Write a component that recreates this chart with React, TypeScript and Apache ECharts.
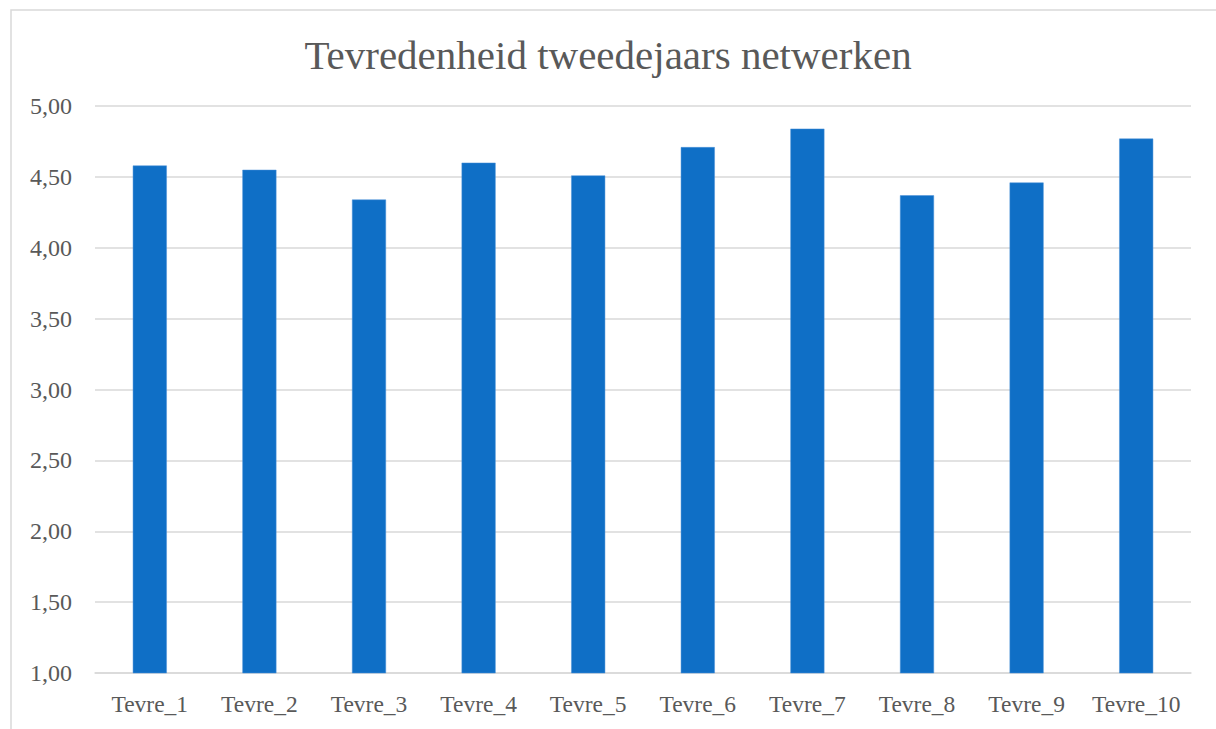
import React, { useEffect, useRef } from "react";
import * as echarts from "echarts";

const categories = ["Tevre_1", "Tevre_2", "Tevre_3", "Tevre_4", "Tevre_5", "Tevre_6", "Tevre_7", "Tevre_8", "Tevre_9", "Tevre_10"];
const values = [4.58, 4.55, 4.34, 4.6, 4.51, 4.71, 4.84, 4.37, 4.46, 4.77];
const titleText = "Tevredenheid tweedejaars netwerken";
const yMin = 1;
const yMax = 5;
const yInterval = 0.5;

const FONT = "'Liberation Serif', serif";
const GREY = "#595959";

export default function App() {
  const ref = useRef<HTMLDivElement>(null);
  useEffect(() => {
    if (!ref.current) return;
    const chart = echarts.init(ref.current, undefined, { renderer: "svg" });
    chart.setOption({
      animation: false,
      backgroundColor: "#ffffff",
      title: {
        text: titleText,
        left: "center",
        top: 29,
        textStyle: { fontFamily: FONT, fontSize: 41, fontWeight: "normal", color: GREY },
      },
      graphic: [
        {
          type: "rect",
          shape: { x: 11, y: 10, width: 1230, height: 760 },
          style: { fill: "none", stroke: "#d9d9d9", lineWidth: 1.5 },
          silent: true,
        },
      ],
      grid: { left: 95, right: 25, top: 106, bottom: 56, containLabel: false },
      xAxis: {
        type: "category",
        data: categories,
        axisTick: { show: false },
        axisLine: { lineStyle: { color: "#d9d9d9", width: 1.5 } },
        axisLabel: { fontFamily: FONT, fontSize: 23.5, color: GREY, margin: 19, interval: 0, hideOverlap: false },
      },
      yAxis: {
        type: "value",
        min: yMin,
        max: yMax,
        interval: yInterval,
        axisLine: { show: false },
        axisTick: { show: false },
        splitLine: { lineStyle: { color: "#d9d9d9", width: 1.5 } },
        axisLabel: {
          fontFamily: FONT,
          fontSize: 24,
          color: GREY,
          margin: 23,
          formatter: (v: number) => v.toFixed(2).replace(".", ","),
        },
      },
      series: [
        {
          type: "bar",
          data: values,
          barWidth: 34,
          itemStyle: { color: "#0F6FC6", borderColor: "#4a90d9", borderWidth: 0.5 },
        },
      ],
    });
    return () => chart.dispose();
  }, []);
  return <div ref={ref} style={{ position: "fixed", left: 0, top: 0, width: 1216, height: 729 }} />;
}
